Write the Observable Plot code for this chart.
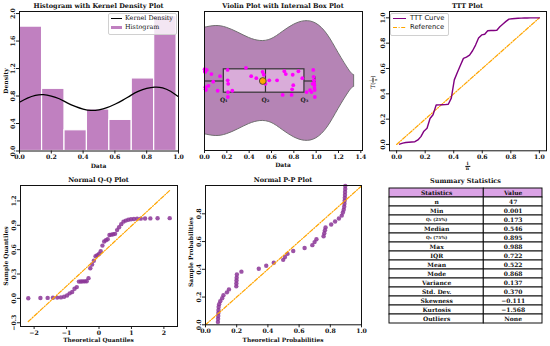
<!DOCTYPE html>
<html><head><meta charset="utf-8">
<script src="https://cdn.jsdelivr.net/npm/d3@7"></script>
<script src="https://cdn.jsdelivr.net/npm/@observablehq/plot@0.6"></script>
<style>
body{margin:0;background:#fff;}
#root{position:relative;width:550px;height:346px;overflow:hidden;font-family:"DejaVu Serif",serif;color:#111;}
.lbl{position:absolute;white-space:nowrap;font-weight:bold;line-height:1;}
.leg{position:absolute;background:rgba(255,255,255,0.8);border:1px solid #d0d0d0;border-radius:2px;}
.legrow{position:absolute;white-space:nowrap;line-height:1;}
</style></head><body><div id="root"></div><script>
// ---------------- data ----------------
const sortedData = [0.001,0.004,0.006,0.008,0.010,0.012,0.020,0.036,0.062,0.078,0.118,0.139,
  0.207,0.208,0.209,0.210,0.212,0.249,0.371,0.418,0.464,0.520,0.531,0.546,0.580,0.650,0.700,
  0.715,0.728,0.780,0.785,0.790,0.795,0.841,0.876,0.914,0.945,0.958,0.968,0.974,0.977,0.980,
  0.982,0.984,0.985,0.987,0.988];
const jitter = [-0.17,-0.14,-0.13,0.09,0.12,0.13,-0.16,0.07,-0.10,0.01,0.14,-0.07,-0.16,-0.01,0.23,
  0.16,0.04,0.14,-0.19,-0.07,-0.04,-0.13,-0.09,0.04,-0.01,-0.01,0.20,-0.14,-0.10,0.20,0.12,-0.09,
  0.06,-0.14,-0.04,0.16,0.13,0.16,0.04,-0.16,-0.06,-0.01,0.03,0.06,0.10,0.13,0.23];
const histEdges = [0.001,0.142,0.283,0.424,0.565,0.706,0.847,0.988];
const histDensity = [1.81,0.905,0.302,0.604,0.453,1.056,1.962];
const kdeX = [0.00,0.05,0.10,0.15,0.20,0.25,0.30,0.35,0.40,0.45,0.50,0.55,0.60,0.65,0.70,0.75,
  0.80,0.85,0.90,0.95,1.00];
const kdeY = [0.71,0.77,0.81,0.82,0.80,0.76,0.70,0.65,0.61,0.59,0.60,0.63,0.68,0.74,0.81,0.87,
  0.91,0.93,0.92,0.87,0.79];
const violinX = [-0.35,-0.25,-0.15,-0.05,0.00,0.10,0.20,0.30,0.40,0.50,0.60,0.70,0.80,0.90,1.00,
  1.10,1.20,1.30,1.34];
const violinWidth = [0.45,0.62,0.76,0.86,0.89,0.92,0.89,0.81,0.72,0.67,0.70,0.82,0.94,1.00,0.96,
  0.78,0.47,0.17,0.10];
const boxQ1 = 0.173, boxMedian = 0.546, boxQ3 = 0.895, boxMin = 0.001, boxMax = 0.988, dataMean = 0.522;
const tttX = [0.021,0.043,0.064,0.085,0.106,0.128,0.149,0.170,0.191,0.213,0.234,0.255,0.277,0.298,
  0.319,0.340,0.362,0.383,0.404,0.426,0.447,0.468,0.489,0.511,0.532,0.553,0.574,0.596,0.617,0.638,
  0.660,0.681,0.702,0.723,0.745,0.766,0.787,0.809,0.830,0.851,0.872,0.894,0.915,0.936,0.957,0.979,1.0];
const tttY = [0.002,0.011,0.016,0.018,0.020,0.022,0.036,0.062,0.105,0.128,0.205,0.235,0.312,0.313,
  0.314,0.315,0.318,0.366,0.510,0.570,0.625,0.680,0.690,0.705,0.740,0.785,0.840,0.865,0.870,0.898,
  0.900,0.900,0.902,0.930,0.952,0.972,0.990,0.993,0.995,0.997,0.998,0.999,0.999,1.0,1.0,1.0,1.0];
const refX = [0,1], refY = [0,1];
const qqTheoretical = [-2.18,-1.806,-1.583,-1.420,-1.288,-1.175,-1.076,-0.986,-0.903,-0.826,-0.754,
  -0.685,-0.619,-0.557,-0.496,-0.437,-0.380,-0.323,-0.268,-0.213,-0.159,-0.106,-0.053,0.000,0.053,
  0.106,0.159,0.213,0.268,0.323,0.380,0.437,0.496,0.557,0.619,0.685,0.754,0.826,0.903,0.986,1.076,
  1.175,1.288,1.420,1.583,1.806,2.18];
const qqLineX = [-2.18, 2.18], qqLineY = [-0.285, 1.329];
const ppTheoretical = [0.0796,0.0808,0.0815,0.0824,0.0832,0.0841,0.0874,0.0945,0.1069,0.1151,0.1374,
  0.1503,0.1973,0.1980,0.1988,0.1996,0.2011,0.2303,0.3416,0.3893,0.4376,0.4980,0.5097,0.5259,0.5623,
  0.6353,0.6848,0.6991,0.7112,0.7570,0.7614,0.7655,0.7697,0.8057,0.8307,0.8553,0.8735,0.8806,0.8859,
  0.8891,0.8906,0.8921,0.8931,0.8941,0.8945,0.8956,0.8960];
const ppSample = [0.021,0.043,0.064,0.085,0.106,0.128,0.149,0.170,0.191,0.213,0.234,0.255,0.277,0.298,
  0.319,0.340,0.362,0.383,0.404,0.426,0.447,0.468,0.489,0.511,0.532,0.553,0.574,0.596,0.617,0.638,
  0.660,0.681,0.702,0.723,0.745,0.766,0.787,0.809,0.830,0.851,0.872,0.894,0.915,0.936,0.957,0.979,1.0];
const statNames = ["n","Min","Q\u2081 (25%)","Median","Q\u2083 (75%)","Max","IQR","Mean","Mode",
  "Variance","Std. Dev.","Skewness","Kurtosis","Outliers"];
const statValues = ["47","0.001","0.173","0.546","0.895","0.988","0.722","0.522","0.868","0.137",
  "0.370","\u22120.111","\u22121.568","None"];
const xTicks01 = [0,0.2,0.4,0.6,0.8,1.0];
const yTicksHist = [0,0.4,0.8,1.2,1.6,2.0];
const xTicksViolin = [0,0.2,0.4,0.6,0.8,1.0,1.2,1.4];
const xTicksQQ = [-2,-1,0,1,2];
const yTicksQQ = [-0.3,0,0.3,0.6,0.9,1.2];
const yTicksPP = [0,0.2,0.4,0.6,0.8];

// ---------------- helpers ----------------
const root = document.getElementById("root");
const PURPLE_DOT = "#8b3597";
const ORANGE = "#ffa500";
const DASHDOT = "4,1.6,1,1.6";
const baseStyle = {fontFamily:"DejaVu Serif", fontSize:"6.2px", fontWeight:"bold", background:"transparent", overflow:"visible", color:"#111"};
function place(el, left, top){ el.style.position="absolute"; el.style.left=left+"px"; el.style.top=top+"px"; root.appendChild(el); }
function label(html, x, y, o = {}){
  const d = document.createElement("div");
  d.className = "lbl"; d.innerHTML = html;
  d.style.left = x+"px"; d.style.top = y+"px";
  d.style.fontSize = (o.size || 6)+"px";
  if (o.weight) d.style.fontWeight = o.weight;
  if (o.family) d.style.fontFamily = o.family;
  d.style.transform = "translate(-50%,-50%)" + (o.rotate ? ` rotate(${o.rotate}deg)` : "");
  root.appendChild(d); return d;
}
function panel({frame, box, x, y, marks}){
  const [fx1, fy1, fx2, fy2] = frame, [L, T, W, H] = box;
  const svg = Plot.plot({width: W, height: H, marginLeft: fx1-L, marginRight: L+W-fx2,
    marginTop: fy1-T, marginBottom: T+H-fy2, x, y, style: baseStyle, marks});
  place(svg, L, T);
}
const fmt1 = d3.format(".1f");
const axX = (ticks, f = fmt1) => Plot.axisX(ticks, {tickSize:3, tickPadding:1, tickFormat:f, stroke:"#222", label:null});
const axY = (ticks, f = fmt1) => Plot.axisY(ticks, {tickSize:3, tickPadding:1.2, tickRotate:-90, tickFormat:f, stroke:"#222", label:null});
const frm = () => Plot.frame({stroke:"#111", strokeWidth:1});

// ---------------- panel 1: histogram + KDE ----------------
const bins = histDensity.map((d,i) => ({x1: histEdges[i], x2: histEdges[i+1], d}));
const kdePts = kdeX.map((x,i) => ({x, y: kdeY[i]}));
panel({frame:[19,11,178,150.5], box:[0,0,183,170], x:{domain:[0,1]}, y:{domain:[0,2.03]},
  marks:[
    Plot.rect(bins, {x1:"x1", x2:"x2", y1:0, y2:"d", fill:"#c080c0", stroke:"white", strokeWidth:1.2}),
    Plot.line(kdePts, {x:"x", y:"y", stroke:"black", strokeWidth:1.3, curve:"natural"}),
    axX(xTicks01), axY(yTicksHist), frm()
  ]});
{
  const lg = document.createElement("div"); lg.className="leg";
  Object.assign(lg.style,{left:"108px", top:"13px", width:"67px", height:"20px"}); root.appendChild(lg);
  const r1 = document.createElement("div"); r1.className="legrow";
  r1.innerHTML = '<span style="display:inline-block;width:11px;border-top:1.3px solid #000;vertical-align:middle;margin-right:3px"></span>Kernel Density';
  Object.assign(r1.style,{left:"111px", top:"15.3px", fontSize:"6.4px"}); root.appendChild(r1);
  const r2 = document.createElement("div"); r2.className="legrow";
  r2.innerHTML = '<span style="display:inline-block;width:11px;height:3.5px;background:#c080c0;vertical-align:middle;margin-right:3px"></span>Histogram';
  Object.assign(r2.style,{left:"111px", top:"24px", fontSize:"6.4px"}); root.appendChild(r2);
}

// ---------------- panel 2: violin ----------------
const VMAX = 0.86;
const violin = violinX.map((x,i) => ({x, hw: violinWidth[i] * VMAX}));
const BH = 0.168;
const strip = sortedData.map((v,i) => ({v, j: jitter[i]}));
panel({frame:[204,11,362,150], box:[183,0,183,170], x:{domain:[0,1.415]}, y:{domain:[-1,1], reverse:true, axis:null},
  marks:[
    Plot.areaY(violin, {x:"x", y1: d => -d.hw, y2:"hw", fill:"#b584b5", stroke:"#707070", strokeWidth:1, curve:"natural", clip:"frame"}),
    Plot.ruleY([0], {x1: boxMin, x2: boxQ1, stroke:"#333", strokeWidth:1.2, clip:"frame"}),
    Plot.ruleY([0], {x1: boxQ3, x2: boxMax, stroke:"#333", strokeWidth:1.2}),
    Plot.ruleX([boxMax], {y1:-0.06, y2:0.06, stroke:"#333", strokeWidth:1.2}),
    Plot.rect([0], {x1: boxQ1, x2: boxQ3, y1: -BH, y2: BH, fill:"#d9acd9", stroke:"#333", strokeWidth:1.2}),
    Plot.ruleX([boxMedian], {y1:-BH, y2:BH, stroke:"#333", strokeWidth:1.2}),
    Plot.dot(strip, {x:"v", y:"j", r:1.9, fill:"#ff00ff", stroke:null}),
    Plot.dot([dataMean], {x: d => d, y: 0, r:3.4, fill: ORANGE, stroke:"#333", strokeWidth:0.8}),
    Plot.text([{x: boxQ1, t:"Q\u2081"}, {x: boxMedian, t:"Q\u2082"}, {x: boxQ3, t:"Q\u2083"}],
      {x:"x", y: 0.27, text:"t", fontSize:6, fontWeight:"bold", fill:"#222"}),
    axX(xTicksViolin), frm()
  ]});

// ---------------- panel 3: TTT ----------------
const tttPts = tttX.map((x,i) => ({x, y: tttY[i]}));
const refPts = refX.map((x,i) => ({x, y: refY[i]}));
panel({frame:[389,11,546,150.3], box:[366,0,184,170], x:{domain:[-0.05,1.05]}, y:{domain:[-0.05,1.05]},
  marks:[
    Plot.line(refPts, {x:"x", y:"y", stroke: ORANGE, strokeWidth:1.2, strokeDasharray: DASHDOT}),
    Plot.line(tttPts, {x:"x", y:"y", stroke:"#800080", strokeWidth:1.4}),
    axX(xTicks01), axY(xTicks01), frm()
  ]});
{
  const lg = document.createElement("div"); lg.className="leg";
  Object.assign(lg.style,{left:"390px", top:"12.5px", width:"57px", height:"21px"}); root.appendChild(lg);
  const r1 = document.createElement("div"); r1.className="legrow";
  r1.innerHTML = '<span style="display:inline-block;width:13px;border-top:1.4px solid #800080;vertical-align:middle;margin-right:4px"></span>TTT Curve';
  Object.assign(r1.style,{left:"393px", top:"15.2px", fontSize:"6.8px", fontFamily:"DejaVu Sans"}); root.appendChild(r1);
  const r2 = document.createElement("div"); r2.className="legrow";
  r2.innerHTML = '<svg width="13" height="3" style="vertical-align:middle;margin-right:4px"><line x1="0" y1="1.5" x2="13" y2="1.5" stroke="#ffa500" stroke-width="1.2" stroke-dasharray="4,1.6,1,1.6"/></svg>Reference';
  Object.assign(r2.style,{left:"393px", top:"24.3px", fontSize:"6.8px", fontFamily:"DejaVu Sans"}); root.appendChild(r2);
}

// ---------------- panel 4: Q-Q ----------------
const qqPts = qqTheoretical.map((x,i) => ({x, y: sortedData[i]}));
const qqLine = qqLineX.map((x,i) => ({x, y: qqLineY[i]}));
panel({frame:[20,185,177,326], box:[0,170,183,176], x:{domain:[-2.42,2.42]}, y:{domain:[-0.346,1.39]},
  marks:[
    Plot.dot(qqPts, {x:"x", y:"y", r:2.2, fill: PURPLE_DOT, fillOpacity:0.85, stroke:null}),
    Plot.line(qqLine, {x:"x", y:"y", stroke: ORANGE, strokeWidth:1.2, strokeDasharray: DASHDOT}),
    axX(xTicksQQ, d3.format("d")), axY(yTicksQQ), frm()
  ]});

// ---------------- panel 5: P-P ----------------
const ppPts = ppTheoretical.map((x,i) => ({x, y: ppSample[i]}));
panel({frame:[205,185,361,324.3], box:[183,170,183,176], x:{domain:[0,1]}, y:{domain:[0,1.004]},
  marks:[
    Plot.dot(ppPts, {x:"x", y:"y", r:2.2, fill: PURPLE_DOT, fillOpacity:0.85, stroke:null}),
    Plot.line(refPts, {x:"x", y:"y", stroke: ORANGE, strokeWidth:1.2, strokeDasharray: DASHDOT}),
    axX(xTicks01), axY(yTicksPP), frm()
  ]});

// ---------------- panel 6: summary table ----------------
const SPLIT = (483.3-389)/(542-389);
const rows = ["Statistics", ...statNames];
const vals = ["Value", ...statValues];
const cells = [];
rows.forEach((t,r) => { cells.push({r, c:0, t}); cells.push({r, c:1, t: vals[r]}); });
const small = c => c.c === 0 && (c.r === 3 || c.r === 5);
panel({frame:[389,186,542,324], box:[366,176,184,170], x:{domain:[0,1], axis:null}, y:{type:"band", domain: d3.range(rows.length), padding:0, axis:null},
  marks:[
    Plot.barX(cells, {x1: d => d.c === 0 ? 0 : SPLIT, x2: d => d.c === 0 ? SPLIT : 1, y:"r",
      fill: d => d.r === 0 ? "#dba3e6" : "white", stroke:"#111", strokeWidth:1}),
    Plot.text(cells.filter(c => !small(c)), {x: d => d.c === 0 ? SPLIT/2 : (1+SPLIT)/2, y:"r", text:"t", fontSize:6, fontWeight:"bold", fill:"#111"}),
    Plot.text(cells.filter(small), {x: SPLIT/2, y:"r", text:"t", fontSize:4.3, fontWeight:"bold", fill:"#111"})
  ]});

// ---------------- titles & axis labels ----------------
const TS = 6.5;
label("Histogram with Kernel Density Plot", 98.5, 6, {size: TS});
label("Violin Plot with Internal Box Plot", 283, 6, {size: TS});
label("TTT Plot", 467.5, 6, {size: TS});
label("Normal Q-Q Plot", 98.5, 180, {size: TS});
label("Normal P-P Plot", 283, 180, {size: TS});
label("Summary Statistics", 465.5, 181, {size: TS});
label("Data", 98.5, 165.5);
label("Density", 6, 81, {rotate:-90});
label("Data", 283, 165);
label('<span style="display:inline-flex;flex-direction:column;align-items:center;font-size:4.6px;line-height:1"><span>i</span><span style="border-top:0.6px solid #111;padding:0 1px">n</span></span>', 467.5, 165.5);
label('T(<span style="display:inline-flex;flex-direction:column;align-items:center;font-size:4px;line-height:1;vertical-align:middle"><span>i</span><span style="border-top:0.5px solid #111;padding:0 1px">n</span></span>)', 373, 82, {rotate:-90, weight:"normal", size:6});
label("Theoretical Quantiles", 98.5, 340.5, {size:5.8});
label("Sample Quantiles", 6, 255.5, {rotate:-90});
label("Theoretical Probabilities", 283, 340.5, {size:5.8});
label("Sample Probabilities", 190.5, 252, {rotate:-90});
</script></body></html>
